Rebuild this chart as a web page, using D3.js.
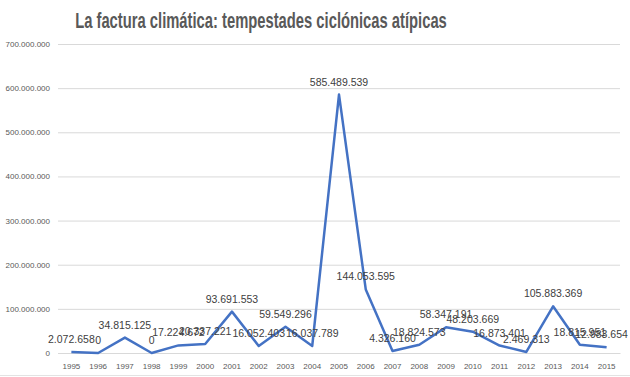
<!DOCTYPE html>
<html>
<head>
<meta charset="utf-8">
<script src="https://cdn.jsdelivr.net/npm/d3@7"></script>
<style>
  body { margin: 0; background: #fff; }
  svg { display: block; }
</style>
</head>
<body>
<div id="chart"></div>
<script>
// data
const years = ["1995", "1996", "1997", "1998", "1999", "2000", "2001", "2002", "2003", "2004",
  "2005", "2006", "2007", "2008", "2009", "2010", "2011", "2012", "2013", "2014", "2015"];
const costs = [2072658, 0, 34815125, 0, 17224672, 20337221, 93691553, 16052403, 59549296, 16037789,
  585489539, 144053595, 4326160, 18824573, 58347191, 48203669, 16873401, 2469313, 105883369, 18815951, 12983654];
const yTicks = [0, 100000000, 200000000, 300000000, 400000000, 500000000, 600000000, 700000000];
const title = "La factura climática: tempestades ciclónicas atípicas";

const width = 630, height = 377;
const margin = {top: 44, right: 10, bottom: 24, left: 58};

// Spanish style thousands separator
const fmt = d3.formatLocale({decimal: ",", thousands: ".", grouping: [3], currency: ["", "€"]}).format(",d");

const svg = d3.select("#chart").append("svg")
    .attr("width", width)
    .attr("height", height);

const x = d3.scaleBand()
    .domain(years)
    .range([margin.left, width - margin.right]);

const y = d3.scaleLinear()
    .domain([0, 700000000])
    .range([height - margin.bottom, margin.top]);

// title: condensed bold, squeezed horizontally to ~372px wide
const titleG = svg.append("g");
const titleText = titleG.append("text")
    .attr("text-anchor", "middle")
    .attr("font-family", "'Liberation Sans Narrow', 'Arial Narrow', 'Liberation Sans', sans-serif")
    .attr("font-weight", "bold")
    .attr("font-size", 23)
    .attr("fill", "#595959")
    .text(title);
const tw = titleText.node().getComputedTextLength();
titleG.attr("transform", `translate(261,28) scale(${Math.min(1, 372 / tw)},1)`);

// y axis with gridlines
const yAxis = svg.append("g")
    .attr("transform", `translate(${margin.left},0)`)
    .call(d3.axisLeft(y)
      .tickValues(yTicks)
      .tickSize(-(width - margin.left - margin.right))
      .tickPadding(8)
      .tickFormat(fmt));
yAxis.select(".domain").remove();
yAxis.selectAll(".tick line").attr("stroke", "#d9d9d9");
yAxis.selectAll(".tick text")
    .attr("fill", "#595959")
    .attr("font-family", "'Liberation Sans', Arial, sans-serif")
    .attr("font-size", 8);

// x axis labels
const xAxis = svg.append("g")
    .attr("transform", `translate(0,${height - margin.bottom})`)
    .call(d3.axisBottom(x).tickSize(0).tickPadding(10));
xAxis.select(".domain").attr("stroke", "#d9d9d9");
xAxis.selectAll(".tick text")
    .attr("fill", "#595959")
    .attr("font-family", "'Liberation Sans', Arial, sans-serif")
    .attr("font-size", 8);

// bottom frame
svg.append("line")
    .attr("x1", 0).attr("x2", width)
    .attr("y1", height - 1.5).attr("y2", height - 1.5)
    .attr("stroke", "#e3e3e3");

const cx = d => x(d) + x.bandwidth() / 2;

// series line
const line = d3.line()
    .x((d, i) => cx(years[i]))
    .y(d => y(d));

svg.append("path")
    .datum(costs)
    .attr("fill", "none")
    .attr("stroke", "#4472C4")
    .attr("stroke-width", 2.5)
    .attr("stroke-linejoin", "round")
    .attr("d", line);

// data labels above points (kept inside the frame on the right)
svg.append("g")
    .selectAll("text")
    .data(costs)
    .join("text")
      .attr("x", (d, i) => cx(years[i]))
      .attr("y", d => y(d) - 9)
      .attr("text-anchor", "middle")
      .attr("font-family", "'Liberation Sans', Arial, sans-serif")
      .attr("font-size", 10.5)
      .attr("fill", "#404040")
      .text(d => fmt(d))
      .each(function() {
        const b = this.getBBox();
        const over = b.x + b.width - (width - 2);
        if (over > 0) d3.select(this).attr("x", +d3.select(this).attr("x") - over);
      });
</script>
</body>
</html>
